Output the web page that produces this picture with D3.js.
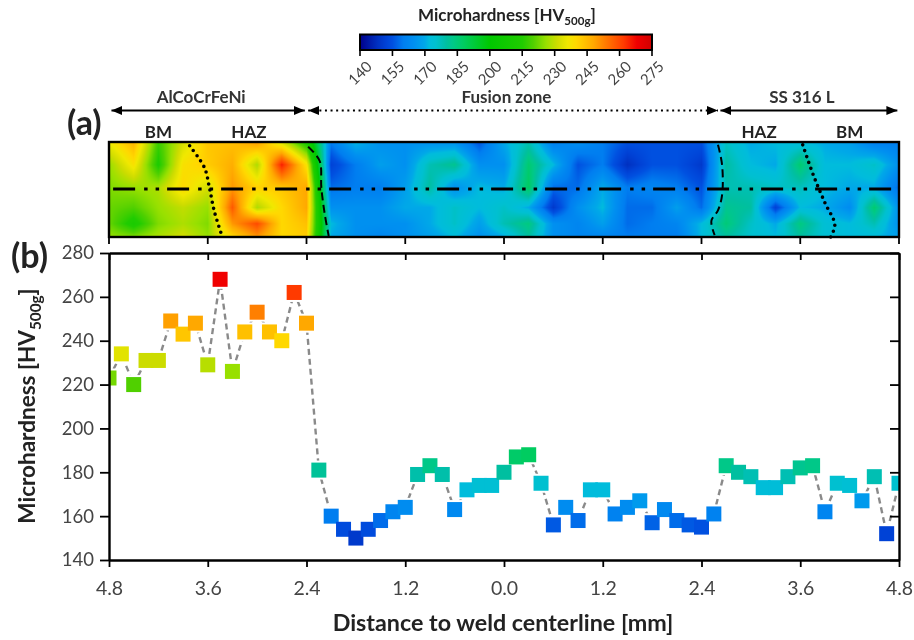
<!DOCTYPE html>
<html><head><meta charset="utf-8">
<script src="https://cdn.jsdelivr.net/npm/d3@7/dist/d3.min.js"></script>
<style>
html,body{margin:0;padding:0;background:#fff;overflow:hidden}
#wrap{position:relative;width:914px;height:640px;filter:blur(0.55px)}
canvas,svg{position:absolute;left:0;top:0}
text{font-family:Lato,"Open Sans",sans-serif}
</style></head><body><div id="wrap"><canvas id="heat" width="914" height="640"></canvas><svg id="chart" width="914" height="640"></svg></div>
<script>
const distance=[-4.8,-4.65,-4.5,-4.35,-4.2,-4.05,-3.9,-3.75,-3.6,-3.45,-3.3,-3.15,-3.0,-2.85,-2.7,-2.55,-2.4,-2.25,-2.1,-1.95,-1.8,-1.65,-1.5,-1.35,-1.2,-1.05,-0.9,-0.75,-0.6,-0.45,-0.3,-0.15,0,0.15,0.3,0.45,0.6,0.75,0.9,1.05,1.2,1.35,1.5,1.65,1.8,1.95,2.1,2.25,2.4,2.55,2.7,2.85,3.0,3.15,3.3,3.45,3.6,3.75,3.9,4.05,4.2,4.35,4.5,4.65,4.8];
const hardness=[223,234,220,231,231,249,243,248,229,268,226,244,253,244,240,262,248,181,160,154,150,154,158,162,164,179,183,179,163,172,174,174,180,187,188,175,156,164,158,172,172,161,164,167,157,163,158,156,155,161,183,180,178,173,173,178,182,183,162,175,174,167,178,152,175];
const xTicks=[-4.8,-3.6,-2.4,-1.2,0,1.2,2.4,3.6,4.8];
const yTicks=[140,160,180,200,220,240,260,280];
const barTicks=[140,155,170,185,200,215,230,245,260,275];
const colorValues=[140,148,152,155,160,165,170,172,175,180,183,188,200,215,220,226,231,236,240,248,253,262,268,275];
const colorHex=["#00008c","#0030c0","#0042d6","#0050e0","#007ef0","#0090f0","#00a8e8","#00bcdc","#00c0d0","#00bfa0","#00c888","#00cc60","#00c800","#20cc00","#50d000","#98e000","#ccdc00","#f0e800","#ffd800","#ffa800","#ff7f00","#ff3a00","#f00000","#d00000"];
const heatColumns=[-4.8,-4.5,-4.2,-3.9,-3.6,-3.3,-3.0,-2.7,-2.4,-2.1,-1.8,-1.5,-1.2,-0.9,-0.6,-0.3,0,0.3,0.6,0.9,1.2,1.5,1.8,2.1,2.4,2.7,3.0,3.3,3.6,3.9,4.2,4.5,4.8];
const heatDepths=[0,0.24,0.48,0.69,0.86,1];
const heatRow0=[236,246,218,232,243,244,250,232,212,160,172,165,165,165,165,155,170,178,160,165,160,155,155,155,155,176,170,172,172,170,168,160,160];
const heatRow1=[226,238,214,238,242,247,228,265,238,152,160,168,165,178,182,165,165,186,172,155,160,148,155,155,150,180,172,170,186,172,172,176,165];
const heatRow2=[224,226,228,240,232,250,241,243,248,158,160,160,168,180,165,172,170,188,158,158,170,160,162,160,155,178,178,176,177,172,170,170,158];
const heatRow3=[222,220,226,230,226,258,228,240,248,165,165,165,170,170,176,172,176,170,150,165,172,158,158,168,158,182,180,152,172,170,164,186,165];
const heatRow4=[222,212,224,228,224,250,260,240,244,172,165,165,165,170,176,168,178,184,165,162,168,158,160,162,172,185,176,170,184,174,172,178,165];
const heatRow5=[226,224,228,232,226,240,250,240,242,170,165,162,165,168,172,165,170,180,165,162,162,160,160,160,172,180,175,172,180,174,172,172,168];
const heatRows=[heatRow0,heatRow1,heatRow2,heatRow3,heatRow4,heatRow5];
const boundaryDotLeft=[[-3.82,.04],[-3.64,.27],[-3.58,.48],[-3.52,.73],[-3.43,.98]];
const boundaryDashLeft=[[-2.38,.05],[-2.24,.2],[-2.22,.48],[-2.18,.75],[-2.13,.99]];
const boundaryDashRight=[[2.6,.03],[2.65,.24],[2.65,.56],[2.6,.72],[2.52,.83],[2.56,.98]];
const boundaryDotRight=[[3.63,.03],[3.76,.35],[3.9,.64],[4.02,.87],[3.97,1]];
const zones=[{t:"AlCoCrFeNi",a:-4.77,b:-2.42,c:-3.68,d:null},{t:"Fusion zone",a:-2.38,b:2.6,c:0.03,d:"2 3.6"},{t:"SS 316 L",a:2.63,b:4.78,c:3.62,d:null}];
const subLabels=[{t:"BM",x:-4.2},{t:"HAZ",x:-3.1},{t:"HAZ",x:3.1},{t:"BM",x:4.2}];

const plotL=109,plotR=899,plotT=253,plotB=560,heatT=142,heatB=237;
const x=d3.scaleLinear().domain([-4.8,4.8]).range([plotL,plotR]);
const y=d3.scaleLinear().domain([140,280]).range([plotB,plotT]);
const depth=d3.scaleLinear().domain([0,1]).range([heatT,heatB]);
const color=d3.scaleLinear().domain(colorValues).range(colorHex).interpolate(d3.interpolateRgb).clamp(true);
const barX=d3.scaleLinear().domain([140,275]).range([360,652]);
const svg=d3.select("#chart");
const fmt=d=>Math.abs(d).toFixed(1);

// heat map, bilinear between the read grid nodes
const ctx=document.getElementById("heat").getContext("2d");
const hw=plotR-plotL,hh=heatB-heatT,img=ctx.createImageData(hw,hh);
const colIdx=d3.scaleLinear().domain(d3.extent(heatColumns)).range([0,heatColumns.length-1]);
for(let j=0;j<hh;j++){
  const dv=(j+.5)/hh;let r=d3.bisectRight(heatDepths,dv)-1;r=Math.max(0,Math.min(r,heatDepths.length-2));
  const tr=(dv-heatDepths[r])/(heatDepths[r+1]-heatDepths[r]);
  for(let i=0;i<hw;i++){
    const ci=colIdx(x.invert(plotL+i+.5));let c=Math.min(Math.floor(ci),heatColumns.length-2);const tc=ci-c;
    const a=heatRows[r][c]*(1-tc)+heatRows[r][c+1]*tc,b=heatRows[r+1][c]*(1-tc)+heatRows[r+1][c+1]*tc;
    const rgb=d3.rgb(color(a*(1-tr)+b*tr)),k=(j*hw+i)*4;
    img.data[k]=rgb.r;img.data[k+1]=rgb.g;img.data[k+2]=rgb.b;img.data[k+3]=255;
  }
}
ctx.putImageData(img,plotL,heatT);

// colour bar
const defs=svg.append("defs");
const grad=defs.append("linearGradient").attr("id","bar");
colorValues.forEach((v,i)=>grad.append("stop").attr("offset",(v-140)/135).attr("stop-color",colorHex[i]));
defs.append("clipPath").attr("id","plotClip").append("rect").attr("x",plotL).attr("y",plotT).attr("width",plotR-plotL).attr("height",plotB-plotT);
defs.append("marker").attr("id","arrow").attr("viewBox","0 0 10 10").attr("refX",10).attr("refY",5).attr("markerUnits","userSpaceOnUse").attr("markerWidth",11).attr("markerHeight",11).attr("orient","auto-start-reverse").append("path").attr("d","M0,0.8L10,5L0,9.2Z").attr("fill","#000");

function title(sel,main,size){ // text with the 500g subscript
  sel.append("tspan").text(main);
  sel.append("tspan").attr("dy",size*.25).attr("font-size",size*.68).text("500g");
  sel.append("tspan").attr("dy",-size*.25).text("]");
}
svg.append("text").attr("x",507).attr("y",21).attr("text-anchor","middle").attr("font-size",17).attr("font-weight",700).attr("fill","#222").call(title,"Microhardness [HV",17);
svg.append("rect").attr("x",barX(140)).attr("y",34.5).attr("width",barX(275)-barX(140)).attr("height",15.5).attr("fill","url(#bar)").attr("stroke","#000").attr("stroke-width",2);
svg.append("g").selectAll("line").data(barTicks).join("line").attr("x1",barX).attr("x2",barX).attr("y1",50).attr("y2",56).attr("stroke","#000").attr("stroke-width",1.6);
svg.append("g").selectAll("text").data(barTicks).join("text").attr("transform",d=>`translate(${barX(d)},73) rotate(-45)`).attr("text-anchor","middle").attr("dy","0.35em").attr("font-size",15).attr("fill","#444").text(d=>d);

// zones
const zg=svg.append("g").selectAll("g").data(zones).join("g");
zg.append("line").attr("x1",d=>x(d.a)).attr("x2",d=>x(d.b)).attr("y1",110.5).attr("y2",110.5).attr("stroke","#000").attr("stroke-width",d=>d.d?2.2:2).attr("stroke-dasharray",d=>d.d).attr("marker-start","url(#arrow)").attr("marker-end","url(#arrow)");
zg.append("text").attr("x",d=>x(d.c)).attr("y",103).attr("text-anchor","middle").attr("font-size",17).attr("font-weight",700).attr("fill","#333").text(d=>d.t);
svg.append("g").selectAll("text").data(subLabels).join("text").attr("x",d=>x(d.x)).attr("y",137.5).attr("text-anchor","middle").attr("font-size",17).attr("font-weight",700).attr("fill","#222").text(d=>d.t);
svg.append("text").attr("x",67).attr("y",135).attr("font-size",34).attr("font-weight",700).attr("fill","#222").text("(a)");
svg.append("text").attr("x",11).attr("y",268).attr("font-size",34).attr("font-weight",700).attr("fill","#222").text("(b)");

// heat map overlays
const curve=d3.line().x(d=>x(d[0])).y(d=>depth(d[1])).curve(d3.curveCatmullRom);
svg.append("line").attr("x1",x(-4.75)).attr("x2",plotR-2).attr("y1",depth(.495)).attr("y2",depth(.495)).attr("stroke","#000").attr("stroke-width",3).attr("stroke-dasharray","22 9 3.5 8 3.5 8");
[boundaryDotLeft,boundaryDotRight].forEach(p=>svg.append("path").attr("d",curve(p)).attr("fill","none").attr("stroke","#000").attr("stroke-width",3.6).attr("stroke-linecap","round").attr("stroke-dasharray","0 6.2"));
[boundaryDashLeft,boundaryDashRight].forEach(p=>svg.append("path").attr("d",curve(p)).attr("fill","none").attr("stroke","#000").attr("stroke-width",2).attr("stroke-dasharray","8 4.5"));
svg.append("rect").attr("x",plotL).attr("y",heatT).attr("width",hw).attr("height",hh).attr("fill","none").attr("stroke","#000").attr("stroke-width",2.4);
svg.append("g").selectAll("line").data(xTicks).join("line").attr("x1",x).attr("x2",x).attr("y1",heatB).attr("y2",heatB+7).attr("stroke","#000").attr("stroke-width",1.8);

// scatter series
const plot=svg.append("g").attr("clip-path","url(#plotClip)");
const pts=d3.zip(distance,hardness);
const line=d3.line().x(d=>x(d[0])).y(d=>y(d[1]));
plot.append("path").attr("d",line(pts)).attr("fill","none").attr("stroke","#8a8a8a").attr("stroke-width",2.4).attr("stroke-dasharray","6 4");
const S=15;
plot.append("g").selectAll("rect").data(pts).join("rect").attr("x",d=>x(d[0])-S/2).attr("y",d=>y(d[1])-S/2).attr("width",S).attr("height",S).attr("fill","none").attr("stroke","#fff").attr("stroke-width",4);
plot.append("g").selectAll("rect").data(pts).join("rect").attr("x",d=>x(d[0])-S/2).attr("y",d=>y(d[1])-S/2).attr("width",S).attr("height",S).attr("fill",d=>color(d[1]));

// axes
const styleAxis=(g,size)=>{g.select(".domain").attr("stroke","#000").attr("stroke-width",2.4);g.selectAll(".tick line").attr("stroke","#000").attr("stroke-width",1.8);g.selectAll("text").attr("font-size",size).attr("fill","#444").attr("font-family","Lato,'Open Sans',sans-serif");};
svg.append("g").attr("transform",`translate(0,${plotB})`).call(d3.axisBottom(x).tickValues(xTicks).tickFormat(fmt).tickSize(7).tickSizeOuter(0).tickPadding(14)).call(styleAxis,19.5);
svg.append("g").attr("transform",`translate(0,${plotT})`).call(d3.axisTop(x).tickValues(xTicks).tickFormat("").tickSize(-7).tickSizeOuter(0)).call(styleAxis,19.5);
svg.append("g").attr("transform",`translate(${plotL},0)`).call(d3.axisLeft(y).tickValues(yTicks).tickSize(9).tickSizeOuter(0).tickPadding(6)).call(styleAxis,18.5);
svg.append("g").attr("transform",`translate(${plotR},0)`).call(d3.axisRight(y).tickValues(yTicks).tickFormat("").tickSize(-9).tickSizeOuter(0)).call(styleAxis,18.5);

svg.append("text").attr("x",503).attr("y",631).attr("text-anchor","middle").attr("font-size",23.3).attr("font-weight",700).attr("fill","#222").text("Distance to weld centerline [mm]");
svg.append("text").attr("transform","translate(35,406) rotate(-90)").attr("text-anchor","middle").attr("font-size",22.5).attr("font-weight",700).attr("fill","#222").call(title,"Microhardness [HV",22.5);
</script></body></html>
